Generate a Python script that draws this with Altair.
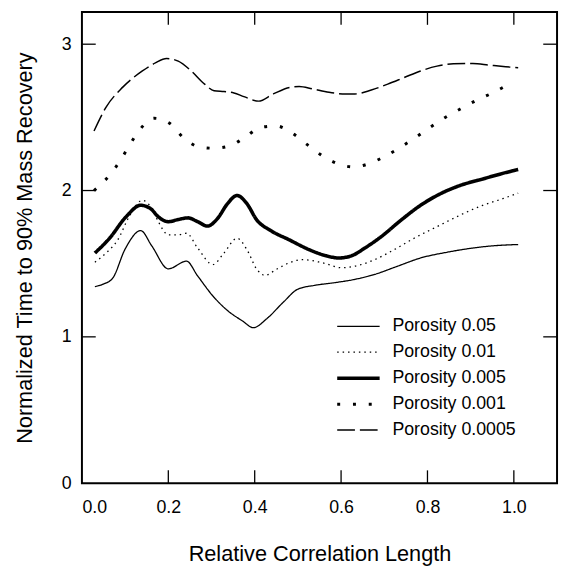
import altair as alt
import pandas as pd

series_names = ["Porosity 0.05", "Porosity 0.01", "Porosity 0.005", "Porosity 0.001", "Porosity 0.0005"]

x_p05 = [0.030, 0.049, 0.071, 0.100, 0.136, 0.162, 0.200, 0.242, 0.268, 0.303, 0.337, 0.371, 0.397,
         0.428, 0.466, 0.500, 0.541, 0.587, 0.632, 0.678, 0.731, 0.784, 0.845, 0.905, 0.951, 1.010]
y_p05 = [1.344, 1.360, 1.400, 1.600, 1.726, 1.620, 1.465, 1.517, 1.416, 1.280, 1.180, 1.110, 1.063,
         1.124, 1.236, 1.326, 1.353, 1.371, 1.393, 1.427, 1.483, 1.539, 1.578, 1.607, 1.622, 1.631]

x_p01 = [0.030, 0.056, 0.083, 0.109, 0.140, 0.162, 0.177, 0.200, 0.223, 0.242, 0.268, 0.303, 0.329,
         0.359, 0.382, 0.405, 0.424, 0.450, 0.480, 0.511, 0.557, 0.602, 0.632, 0.678, 0.723, 0.769,
         0.822, 0.875, 0.928, 0.974, 1.010]
y_p01 = [1.510, 1.573, 1.663, 1.820, 1.933, 1.876, 1.787, 1.697, 1.697, 1.708, 1.607, 1.494, 1.573,
         1.674, 1.596, 1.461, 1.420, 1.461, 1.506, 1.528, 1.506, 1.472, 1.483, 1.528, 1.596, 1.674,
         1.753, 1.831, 1.899, 1.944, 1.982]

x_p005 = [0.030, 0.064, 0.102, 0.136, 0.159, 0.177, 0.200, 0.223, 0.246, 0.268, 0.291, 0.314, 0.337,
          0.359, 0.382, 0.405, 0.435, 0.480, 0.526, 0.564, 0.595, 0.625, 0.655, 0.693, 0.739, 0.784,
          0.830, 0.875, 0.928, 0.974, 1.010]
y_p005 = [1.573, 1.674, 1.820, 1.899, 1.876, 1.820, 1.787, 1.802, 1.813, 1.787, 1.757, 1.809, 1.910,
          1.966, 1.910, 1.798, 1.730, 1.663, 1.596, 1.555, 1.539, 1.555, 1.607, 1.685, 1.798, 1.899,
          1.978, 2.034, 2.079, 2.117, 2.144]

x_p001 = [0.028, 0.064, 0.089, 0.110, 0.133, 0.167, 0.202, 0.237, 0.271, 0.306, 0.343, 0.379, 0.414,
          0.450, 0.485, 0.521, 0.557, 0.593, 0.628, 0.664, 0.699, 0.735, 0.770, 0.805, 0.841, 0.876,
          0.911, 0.947, 0.982]
y_p001 = [2.000, 2.105, 2.206, 2.309, 2.412, 2.494, 2.461, 2.356, 2.298, 2.289, 2.306, 2.367, 2.432,
          2.441, 2.396, 2.315, 2.237, 2.183, 2.161, 2.183, 2.230, 2.291, 2.358, 2.430, 2.499, 2.557,
          2.613, 2.662, 2.716]

x_p0005 = [0.028, 0.056, 0.094, 0.140, 0.170, 0.196, 0.223, 0.253, 0.284, 0.306, 0.329, 0.352, 0.375,
           0.409, 0.443, 0.481, 0.503, 0.534, 0.572, 0.610, 0.632, 0.670, 0.708, 0.746, 0.784, 0.822,
           0.860, 0.905, 0.943, 0.981, 1.010]
y_p0005 = [2.407, 2.570, 2.705, 2.817, 2.872, 2.902, 2.884, 2.817, 2.727, 2.682, 2.676, 2.667, 2.642,
           2.611, 2.660, 2.705, 2.711, 2.694, 2.671, 2.660, 2.660, 2.687, 2.727, 2.772, 2.817, 2.850,
           2.866, 2.868, 2.857, 2.846, 2.839]

x_tick_values = [0.2, 0.4, 0.6, 0.8, 1.0]
y_tick_values = [1, 2, 3]
x_label_values = [0.0, 0.2, 0.4, 0.6, 0.8, 1.0]
y_label_values = [0, 1, 2, 3]

all_x = [x_p05, x_p01, x_p005, x_p001, x_p0005]
all_y = [y_p05, y_p01, y_p005, y_p001, y_p0005]

rows = []
for name, xs, ys in zip(series_names, all_x, all_y):
    for i, (xv, yv) in enumerate(zip(xs, ys)):
        rows.append({"series": name, "x": xv, "y": yv, "i": i})
df = pd.DataFrame(rows)

W, H = 482, 478
xscale = alt.Scale(domain=[0, 1.10], nice=False, zero=False)
yscale = alt.Scale(domain=[0, 3.22], nice=False, zero=False)

dash_range = [[1, 0], [1.5, 4], [1, 0], [3, 13], [18, 5]]
width_range = [1.3, 1.3, 3.6, 3.0, 1.5]

x_axis = alt.Axis(values=x_label_values, format=".1f", ticks=False, domain=False, grid=False,
                  labelFontSize=18, labelPadding=25, labelBaseline="middle",
                  title="Relative Correlation Length", titleFontSize=22, titleFontWeight="normal",
                  titleY=71, titleBaseline="middle")
y_axis = alt.Axis(values=y_label_values, format="d", ticks=False, domain=False, grid=False,
                  labelFontSize=18, labelPadding=11,
                  title="Normalized Time to 90% Mass Recovery", titleFontSize=22,
                  titleFontWeight="normal", titleX=-58, titleBaseline="middle")

legend = alt.Legend(
    title=None, orient="none", legendX=271, legendY=310,
    symbolType="M-2.87,0L2.87,0", symbolSize=225, symbolStrokeColor="black",
    labelFontSize=18, labelFont="Liberation Sans", labelColor="black",
    labelOffset=25, rowPadding=8, padding=0, symbolFillColor="transparent",
)

lines = alt.Chart(df).mark_line(color="black", interpolate="monotone").encode(
    x=alt.X("x:Q", scale=xscale, axis=x_axis),
    y=alt.Y("y:Q", scale=yscale, axis=y_axis),
    strokeDash=alt.StrokeDash("series:N", scale=alt.Scale(type="ordinal", domain=series_names, range=dash_range),
                              legend=legend),
    strokeWidth=alt.StrokeWidth("series:N", scale=alt.Scale(type="ordinal", domain=series_names, range=width_range),
                                legend=legend),
    detail="series:N",
    order="i:Q",
)

xt = pd.DataFrame({"x": x_tick_values})
yt = pd.DataFrame({"y": y_tick_values})

tick_style = dict(color="black", strokeWidth=1.3)
bottom_ticks = alt.Chart(xt).mark_rule(**tick_style).encode(
    x=alt.X("x:Q", scale=xscale, axis=x_axis), y=alt.value(H), y2=alt.value(H - 13))
top_ticks = alt.Chart(xt).mark_rule(**tick_style).encode(
    x=alt.X("x:Q", scale=xscale, axis=x_axis), y=alt.value(0), y2=alt.value(13))
left_ticks = alt.Chart(yt).mark_rule(**tick_style).encode(
    y=alt.Y("y:Q", scale=yscale, axis=y_axis), x=alt.value(0), x2=alt.value(14))
right_ticks = alt.Chart(yt).mark_rule(**tick_style).encode(
    y=alt.Y("y:Q", scale=yscale, axis=y_axis), x=alt.value(W), x2=alt.value(W - 14))

chart = alt.layer(lines, bottom_ticks, top_ticks, left_ticks, right_ticks).properties(
    width=W, height=H,
    background="white",
    autosize=alt.AutoSizeParams(type="none"),
    padding={"left": 75, "top": 0, "right": 3, "bottom": 83},
).configure_view(
    stroke="black", strokeWidth=2
).configure_axis(
    labelFont="Liberation Sans", titleFont="Liberation Sans", labelColor="black", titleColor="black"
)

chart.save("out.html", embed_options={"renderer": "svg", "actions": False})
